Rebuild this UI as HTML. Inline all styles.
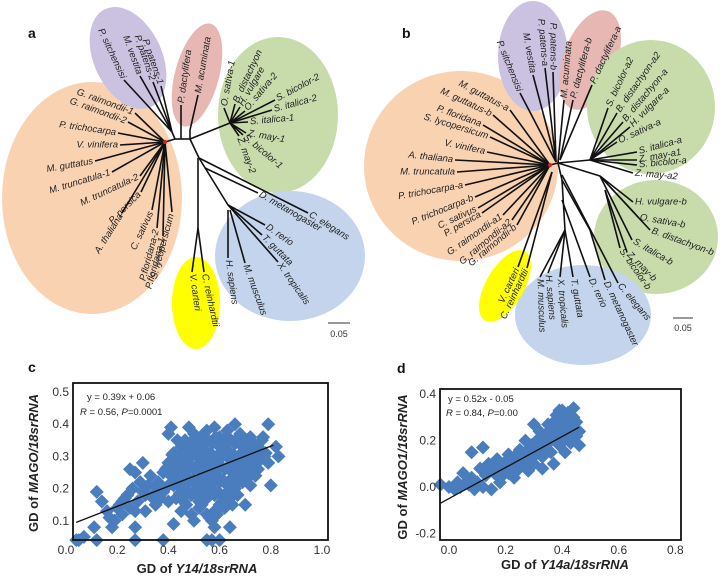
<!DOCTYPE html>
<html><head><meta charset="utf-8"><style>
body{margin:0;background:#fff;}
svg{display:block;font-family:"Liberation Sans",sans-serif;}
.lf{font-style:italic;font-size:9.5px;fill:#222;}
.br{stroke:#111;stroke-width:1.6;fill:none;}
.tk{font-size:12px;fill:#333;}
.ttl{font-size:13px;font-weight:bold;fill:#222;}
.pl{font-size:14px;font-weight:bold;fill:#111;}
.eq{font-size:9.5px;fill:#222;}
</style></head><body>
<svg id="fig" width="720" height="577" viewBox="0 0 720 577" xmlns="http://www.w3.org/2000/svg">
<g id="treeA">
<ellipse cx="92" cy="198" rx="90" ry="116" fill="#f9d2b2"/>
<ellipse cx="128" cy="58" rx="34" ry="54" transform="rotate(-25 128 58)" fill="#cbc2e2"/>
<ellipse cx="197" cy="75" rx="22" ry="53" transform="rotate(15 197 75)" fill="#e6b7b3"/>
<ellipse cx="278" cy="115" rx="60" ry="78" fill="#c8dcab"/>
<ellipse cx="290" cy="256" rx="75" ry="65" fill="#c3d4ec"/>
<ellipse cx="196" cy="303" rx="24" ry="46" fill="#ffff00"/>
<text class="pl" x="28" y="38">a</text>
<line x1="328" y1="323" x2="350" y2="323" stroke="#333"/>
<text x="339" y="337" font-size="9" text-anchor="middle" fill="#333">0.05</text>
</g>
<g id="treeB">
<ellipse cx="461" cy="166" rx="97" ry="95" fill="#f9d2b2"/>
<ellipse cx="533" cy="56" rx="35" ry="55" fill="#cbc2e2"/>
<ellipse cx="590" cy="60" rx="27" ry="52" transform="rotate(20 590 60)" fill="#e6b7b3"/>
<ellipse cx="651" cy="107" rx="64" ry="67" fill="#c8dcab"/>
<ellipse cx="656" cy="237" rx="62" ry="57" fill="#c8dcab"/>
<ellipse cx="583" cy="315" rx="68" ry="50" fill="#c3d4ec"/>
<ellipse cx="505" cy="286" rx="19" ry="40" transform="rotate(30 505 286)" fill="#ffff00"/>
<text class="pl" x="402" y="38">b</text>
<line x1="673" y1="318" x2="693" y2="318" stroke="#333"/>
<text x="683" y="331" font-size="9" text-anchor="middle" fill="#333">0.05</text>
</g>
<g id="plotC"></g>
<g id="plotD"></g>
</svg>
<script>
const NS='http://www.w3.org/2000/svg';
function mk(tag,attrs,parent){const e=document.createElementNS(NS,tag);for(const k in attrs)e.setAttribute(k,attrs[k]);parent.appendChild(e);return e;}

const treeAInternal=[[165,142,175,139],[175,139,190,139],[175,139,172,132],[181,139,181,105],[190,139,190,130],[190,139,230,123],[190,139,199,158],[198,158,198,228],[199,158,228,205]];
const treeALeaves=[
["G. raimondii-1",135,113,165,142,20,"end"],["G. raimondii-2",128,122,165,142,20,"end"],["P. trichocarpa",118,133,165,142,8,"end"],["V. vinifera",120,145,165,142,0,"end"],
["M. guttatus",95,161,165,142,-10,"end"],["M. truncatula-1",112,172,165,142,-17,"end"],["M. truncatula-2",140,176,165,142,-25,"end"],["P. persica",141,192,165,142,-45,"end"],
["A. thaliana",122,213,165,142,-58,"end"],["C. sativus",152,210,165,142,-65,"end"],["P.floridana-2",157,228,165,142,-75,"end"],["P.floridana-1",163,236,165,142,-75,"end"],["S. lycopersicum",172,212,165,142,-75,"end"],
["P. sitchensisi",124,80,172,132,65,"end"],["M. vestita",140,76,172,132,70,"end"],["P. patens-2",153,82,172,132,71,"end"],["P. patens-1",161,86,172,132,71,"end"],
["P. dactylifera",181,105,181,105,-82,"start"],["M. acuminata",198,95,190,130,-80,"start"],
["O. sativa-1",224,108,230,123,-80,"start"],["B. distachyon",235,104,230,123,-65,"start"],["H. vulgare",240,107,230,123,-60,"start"],["O. sativa-2",245,111,230,123,-50,"start"],
["S. bicolor-2",275,100,230,123,-28,"start"],["S. italica-2",272,110,230,123,-15,"start"],["S. italica-1",248,122,230,123,-5,"start"],["Z. may-1",246,133,230,123,10,"start"],
["S. bicolor-1",243,135,230,123,40,"start"],["Z. may-2",239,136,230,123,70,"start"],
["C. elegans",308,213,199,158,32,"start"],["D. metanogaster",258,193,205,168,30,"start"],["D. rerio",265,225,228,205,35,"start"],["T. guttata",262,235,228,205,45,"start"],
["X. tropicalis",278,262,228,205,55,"start"],["M. musculus",245,263,230,210,70,"start"],["H. sapiens",228,258,228,210,82,"start"],
["V. carteri",192,272,198,228,82,"start"],["C. reinhardtii",204,272,198,228,78,"start"]];

const treeBInternal=[[550,165,558,163],[558,163,590,160],[558,163,600,176],[558,163,562,180],[562,180,565,230],[562,180,590,230]];
const treeBLeaves=[
["M. guttatus-a",510,110,550,165,28,"end"],["M. guttatus-b",493,115,550,165,25,"end"],["P. floridana",483,125,550,165,20,"end"],["S. lycopersicum",490,137,550,165,17,"end"],
["V. vinifera",487,152,550,165,12,"end"],["A. thaliana",455,160,550,165,6,"end"],["M. truncatula",457,172,550,165,0,"end"],["P. trichocarpa-a",465,185,550,165,-10,"end"],
["P. trichocarpa-b",475,197,550,165,-22,"end"],["C. sativus",478,208,550,165,-25,"end"],["P. persica",482,213,550,165,-30,"end"],["G. raimondii-a1",503,215,550,165,-35,"end"],
["G. raimondii-a2",512,220,550,165,-40,"end"],["G. raimondii-b",517,225,550,165,-40,"end"],
["P. sitchensisi",520,93,556,162,68,"end"],["M. vestita",533,75,556,162,80,"end"],["P. patens-a",545,68,556,162,85,"end"],["P. patens-b",553,72,556,162,90,"end"],
["M. acuminata",564,100,558,163,-85,"start"],["P. dactylifera-b",573,100,560,160,-75,"start"],["P. dactylifera-a",592,85,560,160,-65,"start"],
["S. bicolor-a2",608,108,590,160,-65,"start"],["B. distachyon-a2",617,113,590,160,-55,"start"],["B. distachyon-a",623,122,590,160,-50,"start"],["H. vulgare-a",630,127,590,160,-45,"start"],
["O. sativa-a",617,142,590,160,-25,"start"],["S. italica-a",637,152,590,160,-15,"start"],["Z. may-a1",637,160,590,160,-10,"start"],["S. bicolor-a",637,165,590,160,-5,"start"],["Z. may-a2",633,173,590,160,5,"start"],
["H. vulgare-b",633,202,600,176,0,"start"],["O. sativa-b",638,217,600,176,10,"start"],["B. distachyon-b",650,230,600,176,20,"start"],["S. italica-b",632,240,600,176,30,"start"],
["Z. may-b",627,252,605,190,45,"start"],["S. bicolor-b",620,248,605,190,55,"start"],
["C. elegans",618,283,562,175,50,"start"],["D. metanogaster",605,280,590,230,65,"start"],["D. rerio",590,277,562,200,65,"start"],["T. guttata",573,277,565,230,80,"start"],
["X. tropicalis",560,277,565,230,85,"start"],["H. sapiens",548,273,565,230,85,"start"],["M. musculus",540,277,565,230,88,"start"],
["V. carteri",518,267,552,172,-65,"end"],["C. reinhardtii",527,268,552,172,-65,"end"]];

function drawTree(gid,internal,leaves){
  const g=document.getElementById(gid);
  internal.forEach(s=>{const l=mk('line',{x1:s[0],y1:s[1],x2:s[2],y2:s[3],class:'br'},g);
    
    });
  leaves.forEach(d=>{
    const l=mk('line',{x1:d[3],y1:d[4],x2:d[1],y2:d[2],class:'br'},g);
    
    
    const off=d[6]==='end'?-2:2;
    const t=mk('text',{x:d[1],y:d[2],class:'lf','text-anchor':d[6],'dominant-baseline':'middle',transform:`rotate(${d[5]} ${d[1]} ${d[2]}) translate(${off} 0)`},g);
    t.textContent=d[0];
    
    
  });
  const r=mk('circle',{cx:internal[0][0],cy:internal[0][1],r:2,fill:'#e02020'},g);
  
  
}
drawTree('treeA',treeAInternal,treeALeaves);
drawTree('treeB',treeBInternal,treeBLeaves);

const cX=[0.05,0.07,0.04,0.12,0.14,0.11,0.12,0.16,0.18,0.22,0.25,0.27,0.27,0.27,0.38,0.30,0.40,0.41,0.48,0.42,0.55,0.57,0.58,0.60,0.59,0.64,0.66,0.79,0.80,0.82,0.83,0.77,0.75,
0.20,0.22,0.24,0.26,0.28,0.30,0.32,0.34,0.36,0.38,0.40,0.33,0.29,0.25,0.31,0.35,0.40,0.39,
0.50,0.55,0.60,0.63,0.68,0.72,0.53,0.58,
0.42,0.45,0.48,0.51,0.54,0.57,0.60,0.63,0.66,0.69,0.72,0.75,0.78,
0.40,0.43,0.46,0.49,0.52,0.55,0.58,0.61,0.64,0.67,0.70,0.73,0.76,0.79,
0.38,0.41,0.44,0.47,0.50,0.53,0.56,0.59,0.62,0.65,0.68,0.71,0.74,
0.36,0.42,0.45,0.48,0.51,0.54,0.57,0.60,0.63,0.66,0.69,0.72,
0.43,0.46,0.49,0.52,0.55,0.58,0.61,0.64,0.67,
0.45,0.49,0.52,0.55,0.58,0.62,0.50,0.57,
0.435,0.465,0.495,0.525,0.555,0.585,0.615,0.645,0.675,0.705,0.735,0.765,
0.415,0.445,0.475,0.505,0.535,0.565,0.595,0.625,0.655,0.685,0.715,0.745,0.775,
0.395,0.425,0.455,0.485,0.515,0.545,0.575,0.605,0.635,0.665,0.695,0.725,
0.435,0.465,0.495,0.525,0.555,0.585,0.615,0.645,0.675,0.705,
0.445,0.475,0.505,0.535,0.565,0.595,0.625,0.655,
0.47,0.53,0.60,0.65,0.70,0.56,0.21,0.23,0.27,0.31,0.35,0.37,0.17,0.19];
const cY=[0.04,0.05,0.04,0.19,0.16,0.08,0.04,0.13,0.08,0.16,0.26,0.25,0.08,0.04,0.04,0.28,0.37,0.39,0.39,0.09,0.04,0.04,0.08,0.04,0.12,0.08,0.40,0.40,0.21,0.33,0.30,0.36,0.26,
0.14,0.12,0.18,0.20,0.16,0.19,0.21,0.17,0.22,0.19,0.21,0.24,0.22,0.14,0.13,0.15,0.16,0.26,
0.37,0.38,0.36,0.38,0.37,0.36,0.35,0.39,
0.31,0.33,0.32,0.33,0.32,0.34,0.33,0.32,0.34,0.33,0.32,0.33,0.31,
0.28,0.29,0.28,0.30,0.28,0.29,0.28,0.30,0.29,0.28,0.29,0.28,0.29,0.28,
0.25,0.24,0.25,0.24,0.26,0.24,0.25,0.24,0.26,0.25,0.24,0.25,0.24,
0.20,0.21,0.20,0.22,0.20,0.21,0.20,0.22,0.21,0.20,0.22,0.21,
0.17,0.16,0.18,0.16,0.17,0.18,0.16,0.17,0.18,
0.13,0.12,0.14,0.12,0.13,0.14,0.10,0.10,
0.35,0.35,0.35,0.36,0.35,0.36,0.35,0.35,0.36,0.35,0.34,0.35,
0.305,0.31,0.305,0.31,0.305,0.31,0.305,0.31,0.305,0.31,0.305,0.31,0.30,
0.265,0.27,0.265,0.27,0.265,0.27,0.265,0.27,0.265,0.27,0.265,0.27,
0.225,0.23,0.225,0.23,0.225,0.23,0.225,0.23,0.225,0.23,
0.185,0.19,0.185,0.19,0.185,0.19,0.185,0.19,
0.15,0.15,0.15,0.15,0.15,0.11,0.15,0.17,0.13,0.18,0.19,0.17,0.11,0.10];
const cFitX=[0.04,0.81];
const cFitY=[0.095,0.335];
const cXTicks=[0.0,0.2,0.4,0.6,0.8,1.0];
const cXTickLabels=["0.0","0.2","0.4","0.6","0.8","1.0"];
const cYTicks=[0.1,0.2,0.3,0.4,0.5];
const cYTickLabels=["0.1","0.2","0.3","0.4","0.5"];

const dX=[0.08,0.12,0.15,0.30,-0.03,0.0,0.02,0.04,0.06,0.05,0.08,0.10,0.12,0.09,0.13,0.11,0.14,0.16,0.18,0.17,0.20,0.19,0.22,0.21,0.23,0.24,0.26,0.25,0.27,0.28,0.29,0.30,0.31,0.32,0.33,0.34,0.35,0.36,0.36,0.37,0.38,0.38,0.39,0.39,0.40,0.40,0.41,0.42,0.42,0.43,0.43,0.44,0.44,0.45,0.45,0.46,0.46,0.41,0.37,0.33,0.28,0.23,0.18,0.35,0.32,0.27,
0.15,0.17,0.20,0.22,0.24,0.26,0.29,0.31,0.34,0.36,0.39,0.41,0.43,0.44,0.40,0.38,0.36,0.33,0.30,0.25,0.21,0.07,0.03];
const dY=[0.15,0.17,-0.01,0.27,0.01,0.0,-0.01,0.0,0.02,0.06,0.04,0.02,0.0,-0.01,0.05,0.08,0.10,0.06,0.09,0.12,0.11,0.05,0.08,0.14,0.13,0.10,0.12,0.16,0.15,0.11,0.18,0.14,0.20,0.17,0.13,0.22,0.19,0.25,0.15,0.28,0.22,0.31,0.33,0.18,0.26,0.30,0.21,0.32,0.28,0.24,0.19,0.30,0.26,0.22,0.28,0.24,0.18,0.15,0.10,0.08,0.07,0.04,0.02,0.27,0.24,0.20,
0.08,0.05,0.08,0.11,0.07,0.14,0.12,0.16,0.15,0.20,0.24,0.27,0.29,0.34,0.33,0.26,0.21,0.18,0.10,0.09,0.06,0.01,0.02];
const dFitX=[-0.03,0.46];
const dFitY=[-0.07,0.258];
const dXTicks=[0.0,0.2,0.4,0.6,0.8];
const dXTickLabels=["0.0","0.2","0.4","0.6","0.8"];
const dYTicks=[-0.2,0.0,0.2,0.4];
const dYTickLabels=["-0.2","0.0","0.2","0.4"];

function scatter(gid,o){
  const g=document.getElementById(gid);
  const sx=v=>o.x0+(v-o.xmin)*o.xs, sy=v=>o.y0-(v-o.ymin)*o.ys;
  const dg=mk('g',{},g);
  
  
  o.X.forEach((x,i)=>{const px=sx(x),py=sy(o.Y[i]),h=7;
    const p=mk('polygon',{points:`${px},${py-h} ${px+h},${py} ${px},${py+h} ${px-h},${py}`,fill:'#4a7dbd'},dg);
    
    });
  const fl=mk('line',{x1:sx(o.fx[0]),y1:sy(o.fy[0]),x2:sx(o.fx[1]),y2:sy(o.fy[1]),stroke:'#111','stroke-width':1.3},g);
  
  
  const b=mk('rect',{x:o.box[0],y:o.box[1],width:o.box[2]-o.box[0],height:o.box[3]-o.box[1],fill:'none',stroke:'#111','stroke-width':1.8},g);
  
  
  o.xt.forEach((v,i)=>{const t=mk('text',{x:sx(v),y:o.box[3]+14,class:'tk','text-anchor':'middle'},g);t.textContent=o.xtl[i];
    
    });
  o.yt.forEach((v,i)=>{const t=mk('text',{x:o.box[0]-4,y:sy(v)+4,class:'tk','text-anchor':'end'},g);t.textContent=o.ytl[i];
    
    });
}
scatter('plotC',{X:cX,Y:cY,fx:cFitX,fy:cFitY,xmin:0,ymin:0,x0:66,y0:553,xs:256,ys:322,box:[73,383,328,540],xt:cXTicks,xtl:cXTickLabels,yt:cYTicks,ytl:cYTickLabels});
scatter('plotD',{X:dX,Y:dY,fx:dFitX,fy:dFitY,xmin:0,ymin:0,x0:449,y0:487,xs:283,ys:232,box:[440,389,681,540],xt:dXTicks,xtl:dXTickLabels,yt:dYTicks,ytl:dYTickLabels});
</script>
<svg style="position:absolute;left:0;top:0" width="720" height="577">
<text class="pl" x="28" y="372" style="font-family:'Liberation Sans',sans-serif">c</text>
<text class="eq" x="87" y="400" style="font-family:'Liberation Sans',sans-serif">y = 0.39x + 0.06</text>
<text class="eq" x="80" y="415" style="font-family:'Liberation Sans',sans-serif"><tspan font-style="italic">R</tspan> = 0.56, <tspan font-style="italic">P</tspan>=0.0001</text>
<text class="ttl" x="197" y="573" text-anchor="middle" style="font-family:'Liberation Sans',sans-serif">GD of <tspan font-style="italic">Y14/18srRNA</tspan></text>
<text class="ttl" transform="translate(38 463) rotate(-90)" text-anchor="middle" style="font-family:'Liberation Sans',sans-serif">GD of <tspan font-style="italic">MAGO/18srRNA</tspan></text>
<text class="pl" x="397" y="373" style="font-family:'Liberation Sans',sans-serif">d</text>
<text class="eq" x="448" y="402" style="font-family:'Liberation Sans',sans-serif">y = 0.52x - 0.05</text>
<text class="eq" x="446" y="416" style="font-family:'Liberation Sans',sans-serif"><tspan font-style="italic">R</tspan> = 0.84, <tspan font-style="italic">P</tspan>=0.00</text>
<text class="ttl" x="565" y="569" text-anchor="middle" style="font-family:'Liberation Sans',sans-serif">GD of <tspan font-style="italic">Y14a/18srRNA</tspan></text>
<text class="ttl" transform="translate(407 467) rotate(-90)" text-anchor="middle" style="font-family:'Liberation Sans',sans-serif">GD of <tspan font-style="italic">MAGO1/18srRNA</tspan></text>
</svg>
</body></html>
